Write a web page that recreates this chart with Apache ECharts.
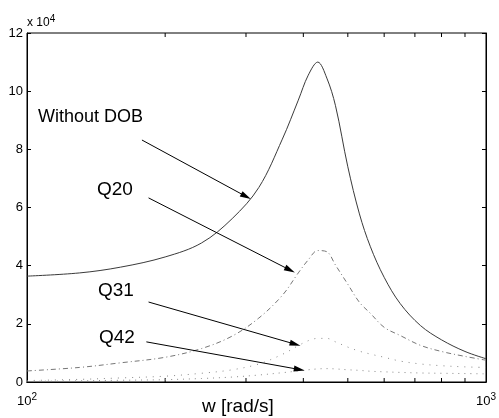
<!DOCTYPE html>
<html>
<head>
<meta charset="utf-8">
<script src="https://cdn.jsdelivr.net/npm/echarts@6/dist/echarts.min.js"></script>
<style>
  html, body { margin: 0; padding: 0; background: #fff; }
  #chart { width: 499px; height: 418px; }
</style>
</head>
<body>
<div id="chart"></div>
<script>
// frequency grid (rad/s) shared by all curves
const freq = [100, 130, 160, 200, 240, 280, 320, 360, 390, 410, 430, 450, 470, 500, 530, 560, 600, 650, 720, 800, 900, 1000]
// magnitudes in units of 1e4
const withoutDob = [3.64, 3.75, 3.95, 4.3, 4.78, 5.62, 6.69, 8.35, 9.69, 10.55, 11.0, 10.45, 9.5, 7.4, 5.78, 4.65, 3.6, 2.7, 1.94, 1.45, 1.05, 0.8]
const q20 = [0.38, 0.5, 0.66, 0.85, 1.15, 1.58, 2.2, 2.98, 3.75, 4.2, 4.52, 4.48, 4.02, 3.36, 2.74, 2.36, 1.88, 1.6, 1.26, 1.05, 0.88, 0.75]
const q31 = [0.05, 0.09, 0.14, 0.2, 0.3, 0.42, 0.62, 0.95, 1.25, 1.42, 1.5, 1.5, 1.38, 1.2, 1.06, 0.96, 0.85, 0.72, 0.62, 0.56, 0.52, 0.5]
const q42 = [0.02, 0.04, 0.06, 0.08, 0.12, 0.17, 0.24, 0.32, 0.38, 0.42, 0.45, 0.46, 0.45, 0.42, 0.4, 0.37, 0.35, 0.33, 0.31, 0.3, 0.29, 0.28]
// minor ticks of the log axis
const minorTicks = [200, 300, 400, 500, 600, 700, 800, 900]
// annotation arrows: [fromW, fromV, toW, toV]
const arrows = [
  [178, 8.32, 300, 6.38],
  [184, 6.33, 374, 3.85],
  [184, 2.75, 384, 1.3],
  [182, 1.38, 392, 0.43]
]

const font = 'Liberation Sans, Arial, sans-serif'
const pairs = vals => freq.map((w, i) => [w, vals[i]])

let myChart = echarts.init(document.getElementById('chart'))
myChart.setOption({
  animation: false,
  backgroundColor: '#fff',
  grid: {
    left: 27,
    right: 9,
    top: 33,
    bottom: 36,
    show: true,
    borderColor: '#000',
    borderWidth: 1
  },
  xAxis: [
    {
      type: 'log',
      logBase: 10,
      min: 100,
      max: 1000,
      axisLine: { lineStyle: { color: '#000' } },
      axisTick: { inside: true, length: 4, lineStyle: { color: '#000' } },
      splitLine: { show: false },
      axisLabel: {
        margin: 10,
        color: '#000',
        fontFamily: font,
        fontSize: 13,
        formatter: v => '10{s|' + Math.round(Math.log10(v)) + '}',
        rich: {
          s: { fontSize: 10, fontFamily: font, color: '#000', verticalAlign: 'top', padding: [0, 0, 8, 0] }
        }
      }
    },
    {
      type: 'log',
      logBase: 10,
      min: 100,
      max: 1000,
      position: 'top',
      axisLine: { lineStyle: { color: '#000' } },
      axisTick: { show: false },
      axisLabel: { show: false },
      splitLine: { show: false }
    }
  ],
  yAxis: [
    {
      type: 'value',
      min: 0,
      max: 12,
      interval: 2,
      axisLine: { show: true, lineStyle: { color: '#000' } },
      axisTick: { show: true, inside: true, length: 4, lineStyle: { color: '#000' } },
      splitLine: { show: false },
      axisLabel: { margin: 4, color: '#000', fontFamily: font, fontSize: 13 }
    },
    {
      type: 'value',
      min: 0,
      max: 12,
      interval: 2,
      position: 'right',
      axisLine: { show: true, lineStyle: { color: '#000' } },
      axisTick: { show: true, inside: true, length: 4, lineStyle: { color: '#000' } },
      splitLine: { show: false },
      axisLabel: { show: false }
    }
  ],
  graphic: [
    {
      type: 'text', left: 27, top: 14,
      style: {
        text: 'x 10{s|4}', fill: '#000', font: '12px ' + font,
        rich: { s: { fontSize: 10, fontFamily: font, fill: '#000', verticalAlign: 'top', padding: [0, 0, 8, 0] } }
      }
    },
    { type: 'text', left: 38, top: 108, style: { text: 'Without DOB', fill: '#000', font: '18px ' + font } },
    { type: 'text', left: 97, top: 180, style: { text: 'Q20', fill: '#000', font: '19px ' + font } },
    { type: 'text', left: 98, top: 281, style: { text: 'Q31', fill: '#000', font: '19px ' + font } },
    { type: 'text', left: 99, top: 328, style: { text: 'Q42', fill: '#000', font: '19px ' + font } },
    { type: 'text', left: 202, top: 397, style: { text: 'w [rad/s]', fill: '#000', font: '19px ' + font } }
  ],
  series: [
    {
      name: 'Without DOB',
      type: 'line',
      data: pairs(withoutDob),
      smooth: 0.35,
      showSymbol: false,
      lineStyle: { color: '#3a3a3a', width: 1 },
      markLine: {
        silent: true,
        symbol: ['none', 'triangle'],
        symbolSize: [0, 9],
        label: { show: false },
        lineStyle: { color: '#000', width: 1, type: 'solid' },
        data: arrows.map(a => [
          { coord: [a[0], a[1]], symbol: 'none' },
          { coord: [a[2], a[3]], symbol: 'triangle', symbolSize: [6, 11] }
        ])
      }
    },
    {
      name: 'Q20',
      type: 'line',
      data: pairs(q20),
      smooth: 0.35,
      showSymbol: false,
      lineStyle: { color: '#777', width: 1, type: [5, 3, 1, 3] }
    },
    {
      name: 'Q31',
      type: 'line',
      data: pairs(q31),
      smooth: 0.35,
      showSymbol: false,
      lineStyle: { color: '#888', width: 1, type: [1, 6] }
    },
    {
      name: 'Q42',
      type: 'line',
      data: pairs(q42),
      smooth: 0.35,
      showSymbol: false,
      lineStyle: { color: '#888', width: 1, type: [1, 5] }
    },
    {
      // log-axis minor ticks, bottom and top
      type: 'custom',
      silent: true,
      data: minorTicks.map(w => [w, 0]),
      renderItem: (params, api) => {
        let b = api.coord([api.value(0), 0])
        let t = api.coord([api.value(0), 12])
        return {
          type: 'group',
          children: [
            { type: 'line', shape: { x1: b[0], y1: b[1], x2: b[0], y2: b[1] - 4 }, style: { stroke: '#000', lineWidth: 1 } },
            { type: 'line', shape: { x1: t[0], y1: t[1], x2: t[0], y2: t[1] + 4 }, style: { stroke: '#000', lineWidth: 1 } }
          ]
        }
      }
    }
  ]
})
</script>
</body>
</html>
